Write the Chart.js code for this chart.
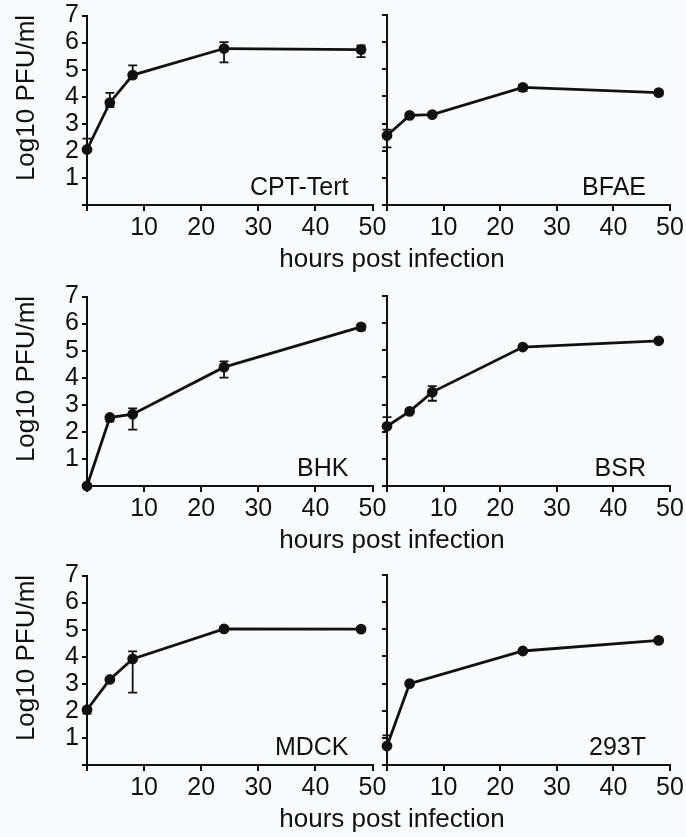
<!DOCTYPE html>
<html>
<head>
<meta charset="utf-8">
<script src="https://cdn.jsdelivr.net/npm/chart.js@4.4.0/dist/chart.umd.min.js"></script>
<style>
  body { margin: 0; background: #fafbfc; }
  #fig { position: relative; width: 686px; height: 837px; overflow: hidden;
         font-family: 'Liberation Sans', Arial, sans-serif; color: #111; }
  canvas { position: absolute; }
  .xt { position: absolute; width: 400px; text-align: center; font-size: 26px; line-height: 26px; white-space: nowrap; }
  .yt { position: absolute; font-size: 26px; line-height: 26px; white-space: nowrap;
        transform: translate(-50%, -50%) rotate(-90deg); }
</style>
</head>
<body>
<div id="fig"></div>
<script>
// sampling times (hours post infection)
const hours = [0, 4, 8, 24, 48];
const hours293T = [0, 4, 24, 48];

// axis ticks
const xTickValues = [0, 10, 20, 30, 40, 50];
const yTickValues = [0, 1, 2, 3, 4, 5, 6, 7];

// titres (log10 PFU/ml), with top / bottom of the error bars
const cptTert   = [2.05, 3.78, 4.80, 5.78, 5.74];
const cptTertHi = [2.45, 4.14, 5.16, 6.02, 5.90];
const cptTertLo = [2.05, 3.62, 4.70, 5.27, 5.46];

const bfae   = [2.56, 3.30, 3.33, 4.33, 4.14];
const bfaeHi = [2.78, 3.35, 3.38, 4.43, 4.22];
const bfaeLo = [2.12, 3.25, 3.28, 4.20, 4.04];

const bhk   = [0.00, 2.53, 2.65, 4.39, 5.88];
const bhkHi = [0.00, 2.58, 2.87, 4.60, 5.95];
const bhkLo = [0.00, 2.38, 2.08, 4.00, 5.75];

const bsr   = [2.20, 2.75, 3.46, 5.12, 5.35];
const bsrHi = [2.54, 2.83, 3.68, 5.15, 5.38];
const bsrLo = [2.20, 2.68, 3.14, 5.08, 5.32];

const mdck   = [2.04, 3.16, 3.92, 5.03, 5.02];
const mdckHi = [2.10, 3.20, 4.20, 5.10, 5.08];
const mdckLo = [1.90, 3.12, 2.67, 4.95, 4.94];

const t293   = [0.70, 3.00, 4.20, 4.59];
const t293Hi = [1.09, 3.00, 4.20, 4.59];
const t293Lo = [0.70, 3.00, 4.20, 4.59];

const panels = [
  { label: 'CPT-Tert', row: 0, left: true,  x: hours,     y: cptTert, hi: cptTertHi, lo: cptTertLo },
  { label: 'BFAE',     row: 0, left: false, x: hours,     y: bfae,    hi: bfaeHi,    lo: bfaeLo },
  { label: 'BHK',      row: 1, left: true,  x: hours,     y: bhk,     hi: bhkHi,     lo: bhkLo },
  { label: 'BSR',      row: 1, left: false, x: hours,     y: bsr,     hi: bsrHi,     lo: bsrLo },
  { label: 'MDCK',     row: 2, left: true,  x: hours,     y: mdck,    hi: mdckHi,    lo: mdckLo },
  { label: '293T',     row: 2, left: false, x: hours293T, y: t293,    hi: t293Hi,    lo: t293Lo }
];

const rowTops = [0, 281, 560];
const ink = '#111';
const family = "'Liberation Sans', Arial, sans-serif";

// error bars drawn through the chart scales
const errorBars = {
  id: 'errorBars',
  afterDatasetsDraw(chart) {
    const { ctx, scales: { x, y } } = chart;
    const ds = chart.data.datasets[0];
    ctx.save();
    ctx.strokeStyle = ink;
    ctx.lineWidth = 1.8;
    ds.data.forEach((p, i) => {
      const px = x.getPixelForValue(p.x);
      const yt = y.getPixelForValue(ds.errHi[i]);
      const yb = y.getPixelForValue(ds.errLo[i]);
      if (Math.abs(yt - yb) < 1) return;
      ctx.beginPath();
      ctx.moveTo(px, yt); ctx.lineTo(px, yb);
      ctx.moveTo(px - 4.5, yt); ctx.lineTo(px + 4.5, yt);
      ctx.moveTo(px - 4.5, yb); ctx.lineTo(px + 4.5, yb);
      ctx.stroke();
    });
    ctx.restore();
  }
};

// cell line name in the lower right of each plot
const panelLabel = {
  id: 'panelLabel',
  afterDraw(chart) {
    const { ctx, chartArea } = chart;
    ctx.save();
    ctx.fillStyle = ink;
    ctx.font = '25px ' + family;
    ctx.textAlign = 'right';
    ctx.textBaseline = 'alphabetic';
    ctx.fillText(chart.data.datasets[0].label, chartArea.right - 24, chartArea.bottom - 10);
    ctx.restore();
  }
};

const fig = document.getElementById('fig');

panels.forEach(p => {
  const cv = document.createElement('canvas');
  const w = p.left ? 390 : 316;
  cv.width = w; cv.height = 250;
  cv.style.left = (p.left ? 0 : 370) + 'px';
  cv.style.top = rowTops[p.row] + 'px';
  fig.appendChild(cv);

  new Chart(cv.getContext('2d'), {
    type: 'line',
    data: {
      datasets: [{
        label: p.label,
        data: p.x.map((h, i) => ({ x: h, y: p.y[i] })),
        errHi: p.hi,
        errLo: p.lo,
        borderColor: ink,
        borderWidth: 2.8,
        pointRadius: 4,
        pointBackgroundColor: ink,
        pointBorderColor: ink,
        tension: 0,
        clip: false
      }]
    },
    options: {
      responsive: false,
      animation: false,
      layout: { padding: { left: 0, top: 15, right: p.left ? 17.5 : 16, bottom: 0 } },
      plugins: { legend: { display: false }, tooltip: { enabled: false } },
      scales: {
        x: {
          type: 'linear', min: 0, max: 50,
          afterBuildTicks: s => { s.ticks = xTickValues.map(v => ({ value: v })); },
          afterFit: s => { s.height = 45; },
          grid: { drawOnChartArea: false, drawTicks: true, tickLength: 6, color: ink, lineWidth: 2 },
          border: { display: true, color: ink, width: 2 },
          ticks: { color: ink, padding: 2, maxRotation: 0, autoSkip: false,
                   font: { family: family, size: 25 },
                   callback: v => v === 0 ? '' : v }
        },
        y: {
          type: 'linear', min: 0, max: 7,
          afterBuildTicks: s => { s.ticks = yTickValues.map(v => ({ value: v })); },
          afterFit: s => { s.width = p.left ? 87 : 17; },
          grid: { drawOnChartArea: false, drawTicks: true, tickLength: 5, color: ink, lineWidth: 2 },
          border: { display: true, color: ink, width: 2 },
          ticks: { display: p.left, color: ink, padding: 3, autoSkip: false,
                   font: { family: family, size: 25, lineHeight: 1 },
                   callback: v => v === 0 ? '' : v }
        }
      }
    },
    plugins: [errorBars, panelLabel]
  });
});

// shared axis titles
rowTops.forEach(t => {
  const xt = document.createElement('div');
  xt.className = 'xt';
  xt.textContent = 'hours post infection';
  xt.style.left = (392 - 200) + 'px';
  xt.style.top = (t + 245) + 'px';
  fig.appendChild(xt);

  const yt = document.createElement('div');
  yt.className = 'yt';
  yt.textContent = 'Log10 PFU/ml';
  yt.style.left = '25px';
  yt.style.top = (t + 98) + 'px';
  fig.appendChild(yt);
});
</script>
</body>
</html>
